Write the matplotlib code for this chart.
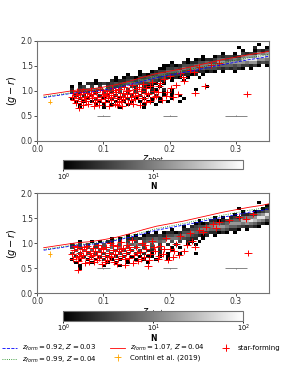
import matplotlib
matplotlib.use("Agg")
import matplotlib.pyplot as plt
import numpy as np
from matplotlib.colors import LogNorm

# ---- binning of the 2D histograms (z_phot vs g-r) ----
Z_START, Z_STEP, N_ZBIN = 0.05, 0.006, 50
GR_TOP, GR_STEP, N_GRBIN = 1.96, 0.06, 26

# count level encoded by each character of the grids below
LEVEL_COUNTS = {"1": 1, "2": 2, "3": 3, "4": 4, "5": 6, "6": 9, "7": 15, "8": 30, "9": 60}

# top panel: rows from g-r = 1.96 (top) downwards, columns from z = 0.05
top_grid = [
    ".......... .......... .......... .......... .......1..",
    ".......... .......... .......... .......... ..1...2..1",
    ".......... .......... .......... .......... ...1..1323",
    ".......... .......... .......... ........1. .1.3233767",
    ".......... .......... .......... ...1..1323 3236777998",
    ".......... .......... .........1 .121223554 5658999776",
    ".......... .......... .....1..21 2244544776 7777677343",
    ".......... .......... ...1121244 4566676555 54533231.1",
    ".......... .......... ..11334365 6645444323 2321.1....",
    ".......... .......1.. 1233555644 4322121.1. .1........",
    ".......... ....1..121 3455433322 12.1...... ..........",
    ".......... .1.1221334 55342121.1 ..1....... ..........",
    "......1... 2122343556 4322.1..1. .......... ..........",
    "..1.221232 3434565433 21.1...... .......... ..........",
    "1.23.3.3.3 4343.32.21 1.1....... ....1..... ..........",
    "2.345656.4 3.4.3.2.2. 21.2.1.... .1........ ..........",
    "3.2.3.2.3. 2.3.2.3.2. 2..1.1.... .......... ..........",
    ".2.2.2.2.2 .2.3.2.2.1 .2.1.1.1.. .......... ..........",
    "1.2.1.2.1. 2.1.2.1.1. 1.1..1..1. .......... ..........",
    ".1.1.1.1.1 .1.1.1.1.1 1.1.1..1.. .......... ..........",
    "..1...1.1. 1...1...1. .1........ .......... ..........",
    "..1.....1. ..1.....1. .......... .......... ..........",
    ".......... .......... .......... .......... ..........",
    ".......... .......... .......... .......... ..........",
    ".......... .......... .......... .......... ..........",
    ".......... .......... .......... .......... ..........",
]

bottom_grid = [
    ".......... .......... .......... .......... ..........",
    ".......... .......... .......... .......... ..........",
    ".......... .......... .......... .......... .......1..",
    ".......... .......... .......... .......... .........1",
    ".......... .......... .......... .......... ..1.....12",
    ".......... .......... .......... .......... ...1..1235",
    ".......... .......... .......... .......... .1.2233679",
    ".......... .......... .......... ......1.1. 2325667997",
    ".......... .......... .......... ..1..22123 4558898763",
    ".......... .......... .......... .121244545 7776765321",
    ".......... .......... ........1. 2344567776 55432321..",
    ".......... .......... .....1..22 4466655454 221.1.....",
    ".......... .........1 .1.1221244 6544322121 .1........",
    ".......... ....1.1.12 2232445465 43212.1... ..........",
    ".......... 1.1.223234 4544666543 22.1...... ..........",
    "..1..1.1.2 2.2.3.3.45 6656.4.3.2 1.1....... ..........",
    "2.3.3.3.4. 4.4.55654. 4.3.2.2..1 .1........ ..........",
    "3.3.4.3.4. 5.6.4.4.3. 3.3..1.1.. .......... ..........",
    ".4.5.5.4.5 .4.3.3.3.2 2.2..1.... .......... ..........",
    "3.3.3.3.3. 3.3.2.2.2. 1.2.1..1.. .1........ ..........",
    ".2.2.2.2.2 .2.2.1.1.1 1.1.1..... .......... ..........",
    "1.1.1.1.2. 1.1.1.1.1. .1..1..... .......... ..........",
    ".1...1...1 .1..1....1 .......... .......... ..........",
    "..1.....1. ..1....... .......... .......... ..........",
    "..1....... .......... .......... .......... ..........",
    ".......... .......... .......... .......... ..........",
]

# model colour tracks
model_z = [0.01, 0.02, 0.03, 0.04, 0.05, 0.06, 0.07, 0.08, 0.10, 0.12, 0.14,
           0.16, 0.18, 0.20, 0.22, 0.24, 0.26, 0.28, 0.30, 0.32, 0.34, 0.35]
blue_gr = [0.86, 0.88, 0.90, 0.92, 0.94, 0.96, 0.965, 0.975, 1.01, 1.06, 1.12,
           1.19, 1.26, 1.31, 1.36, 1.41, 1.47, 1.52, 1.57, 1.62, 1.66, 1.69]
green_gr = [0.875, 0.895, 0.915, 0.935, 0.955, 0.975, 0.98, 0.99, 1.03, 1.08, 1.15,
            1.22, 1.29, 1.34, 1.39, 1.45, 1.50, 1.56, 1.61, 1.66, 1.70, 1.73]
red_gr = [0.91, 0.93, 0.95, 0.97, 0.99, 1.01, 1.02, 1.03, 1.07, 1.12, 1.19,
          1.27, 1.34, 1.39, 1.44, 1.50, 1.56, 1.62, 1.67, 1.72, 1.76, 1.79]

# star-forming galaxies
top_sf_z = [0.052, 0.054, 0.056, 0.058, 0.060, 0.062, 0.063, 0.065, 0.067, 0.069,
            0.071, 0.073, 0.075, 0.077, 0.079, 0.081, 0.083, 0.085, 0.087, 0.089,
            0.091, 0.093, 0.095, 0.097, 0.099, 0.101, 0.103, 0.105, 0.107, 0.109,
            0.111, 0.113, 0.115, 0.117, 0.119, 0.121, 0.123, 0.125, 0.127, 0.129,
            0.131, 0.133, 0.135, 0.137, 0.139, 0.141, 0.143, 0.145, 0.147, 0.149,
            0.152, 0.155, 0.157, 0.160, 0.162, 0.165, 0.168, 0.171, 0.174, 0.177,
            0.180, 0.184, 0.188, 0.192, 0.196, 0.200, 0.205, 0.210, 0.216, 0.222,
            0.230, 0.238, 0.245, 0.253, 0.262, 0.275, 0.316, 0.108, 0.128, 0.145,
            0.058, 0.066, 0.074, 0.082, 0.090, 0.098, 0.104, 0.112, 0.118, 0.124,
            0.130, 0.136, 0.142, 0.148, 0.154, 0.158, 0.164, 0.170, 0.176, 0.182,
            0.186, 0.194, 0.202, 0.212, 0.220, 0.236, 0.070, 0.086, 0.120, 0.165]
top_sf_gr = [0.88, 0.95, 0.82, 0.91, 0.99, 0.86, 0.66, 0.93, 0.79, 1.00,
             0.88, 0.84, 0.96, 0.74, 0.90, 1.02, 0.85, 0.93, 0.78, 0.98,
             0.88, 0.72, 1.04, 0.83, 0.94, 0.89, 0.77, 1.00, 0.86, 0.95,
             0.81, 1.06, 0.91, 0.74, 0.97, 0.85, 1.03, 0.90, 0.79, 0.95,
             1.08, 0.87, 0.93, 0.76, 1.01, 0.88, 1.11, 0.96, 0.83, 1.04,
             0.92, 0.71, 0.99, 1.14, 0.86, 1.05, 0.94, 0.80, 1.18, 1.00,
             0.90, 1.09, 0.82, 1.23, 0.97, 1.29, 0.88, 1.12, 1.35, 1.20,
             1.42, 0.96, 1.47, 1.10, 1.52, 1.55, 0.94, 0.69, 0.70, 0.74,
             0.76, 0.97, 0.80, 0.94, 0.82, 1.01, 0.92, 0.87, 1.02, 0.78,
             0.84, 0.99, 0.81, 0.90, 1.08, 0.85, 0.96, 1.10, 0.87, 0.98,
             1.15, 0.90, 1.05, 0.94, 1.28, 1.38, 0.72, 0.70, 0.72, 0.77]

bottom_sf_z = [0.052, 0.054, 0.056, 0.058, 0.060, 0.062, 0.064, 0.066, 0.068, 0.070,
               0.072, 0.074, 0.076, 0.078, 0.080, 0.082, 0.084, 0.086, 0.088, 0.090,
               0.092, 0.094, 0.096, 0.098, 0.100, 0.102, 0.104, 0.106, 0.108, 0.110,
               0.112, 0.114, 0.116, 0.118, 0.120, 0.122, 0.124, 0.126, 0.128, 0.130,
               0.132, 0.134, 0.136, 0.138, 0.140, 0.143, 0.146, 0.149, 0.152, 0.155,
               0.158, 0.161, 0.164, 0.167, 0.170, 0.174, 0.178, 0.182, 0.186, 0.190,
               0.195, 0.200, 0.205, 0.210, 0.216, 0.222, 0.230, 0.238, 0.245, 0.255,
               0.265, 0.275, 0.290, 0.305, 0.318, 0.325, 0.061,
               0.056, 0.063, 0.071, 0.079, 0.085, 0.091, 0.097, 0.103, 0.109, 0.115,
               0.121, 0.127, 0.133, 0.139, 0.145, 0.151, 0.157, 0.163, 0.169, 0.176,
               0.184, 0.192, 0.198, 0.207, 0.214, 0.226, 0.234, 0.250, 0.270, 0.315]
bottom_sf_gr = [0.78, 0.68, 0.86, 0.73, 0.93, 0.64, 0.81, 0.71, 0.89, 0.76,
                0.60, 0.84, 0.95, 0.69, 0.80, 0.74, 0.91, 0.63, 0.85, 0.77,
                0.97, 0.70, 0.82, 0.58, 0.88, 0.75, 0.93, 0.66, 0.81, 1.00,
                0.72, 0.86, 0.62, 0.79, 0.95, 0.68, 0.84, 1.03, 0.74, 0.90,
                0.57, 0.80, 0.97, 0.70, 0.86, 1.06, 0.76, 0.92, 0.64, 0.83,
                1.00, 0.72, 0.89, 0.54, 0.79, 1.05, 0.85, 0.68, 0.95, 0.78,
                1.10, 0.88, 0.73, 0.99, 1.15, 0.84, 1.20, 0.92, 1.27, 1.33,
                1.38, 1.42, 1.47, 1.52, 0.80, 1.58, 0.47,
                0.95, 0.75, 0.92, 0.63, 0.77, 0.66, 0.90, 0.62, 0.74, 0.97,
                0.58, 0.88, 0.69, 0.93, 0.60, 0.81, 0.68, 0.97, 0.66, 0.92,
                0.75, 0.88, 0.66, 0.84, 0.76, 0.96, 1.05, 1.22, 1.30, 1.49]

# Contini et al. (2019)
contini_z, contini_gr, contini_zerr, contini_grerr = [0.019], [0.78], [0.002], [0.055]

# typical photometric errors
err_z = [0.1, 0.2, 0.3]
err_gr = [0.5, 0.5, 0.5]
err_zerr = [0.0095, 0.0105, 0.017]
err_grerr = [0.008, 0.008, 0.008]


def grid_cells(rows):
    z, gr, n = [], [], []
    for i, row in enumerate(rows):
        for c, ch in enumerate(row.replace(" ", "")):
            if ch != ".":
                z.append(Z_START + Z_STEP * (c + 0.5))
                gr.append(GR_TOP - GR_STEP * (i + 0.5))
                n.append(LEVEL_COUNTS[ch])
    return z, gr, n


z_edges = Z_START + Z_STEP * np.arange(N_ZBIN + 1)
gr_edges = GR_TOP - GR_STEP * np.arange(N_GRBIN, -1, -1)

plt.rcParams["font.family"] = "DejaVu Sans"
plt.rcParams["mathtext.fontset"] = "dejavusans"

fig = plt.figure(figsize=(2.99, 3.66), dpi=100)

panels = [
    (top_grid, top_sf_z, top_sf_gr, 0.616, 0.537, 98),
    (bottom_grid, bottom_sf_z, bottom_sf_gr, 0.199, 0.1235, 100),
]

handles = None
for grid, sf_z, sf_gr, ax_bottom, cb_bottom, vmax in panels:
    ax = fig.add_axes([0.124, ax_bottom, 0.776, 0.273])
    cz, cgr, cn = grid_cells(grid)
    _, _, _, im = ax.hist2d(cz, cgr, bins=[z_edges, gr_edges], weights=cn,
                            cmap="gray", norm=LogNorm(vmin=1, vmax=vmax), cmin=1, zorder=1)

    ax.errorbar(err_z, err_gr, xerr=err_zerr, yerr=err_grerr, fmt="none",
                ecolor="0.45", elinewidth=0.6, zorder=2)
    sf = ax.errorbar(sf_z, sf_gr, xerr=0.006, yerr=0.04, fmt="+", color="red",
                     ms=4, mew=0.7, elinewidth=0.6, zorder=3, label="star-forming")
    l_blue, = ax.plot(model_z, blue_gr, ls="--", color="blue", lw=0.6, zorder=4,
                      label=r"$z_{form}=0.92$, $Z=0.03$")
    l_green, = ax.plot(model_z, green_gr, ls=":", color="green", lw=0.6, zorder=4,
                       label=r"$z_{form}=0.99$, $Z=0.04$")
    l_red, = ax.plot(model_z, red_gr, ls="-", color="red", lw=0.6, zorder=4,
                     label=r"$z_{form}=1.07$, $Z=0.04$")
    ct = ax.errorbar(contini_z, contini_gr, xerr=contini_zerr, yerr=contini_grerr,
                     fmt="_", color="orange", ms=3, mew=0.6, elinewidth=0.6,
                     zorder=5, label="Contini et al. (2019)")

    ax.set_xlim(0, 0.35)
    ax.set_ylim(0, 2.0)
    ax.set_xticks([0.0, 0.1, 0.2, 0.3])
    ax.set_yticks([0.0, 0.5, 1.0, 1.5, 2.0])
    ax.tick_params(labelsize=5.5, length=2, width=0.6, pad=1, colors="0.2")
    for s in ax.spines.values():
        s.set_color("0.45")
        s.set_linewidth(0.8)
    ax.set_xlabel(r"$z_{phot}$", fontsize=7, labelpad=0)
    ax.set_ylabel(r"$(g-r)$", fontsize=7, labelpad=1)

    cax = fig.add_axes([0.211, cb_bottom, 0.602, 0.027])
    cb = fig.colorbar(im, cax=cax, orientation="horizontal")
    cb.ax.minorticks_off()
    cb.ax.tick_params(labelsize=4.8, length=1.5, width=0.6, pad=0)
    cb.outline.set_edgecolor("0.45")
    cb.outline.set_linewidth(0.8)
    cb.set_label("N", fontsize=5.5, fontweight="bold", labelpad=-0.3)

    handles = [l_blue, l_green, l_red, ct, sf]

fig.legend(handles, [h.get_label() for h in handles], ncol=3, loc="upper left",
           bbox_to_anchor=(0.005, 0.064), fontsize=5, frameon=False,
           handlelength=2.2, handletextpad=0.6, columnspacing=2.0,
           labelspacing=0.2, borderpad=0.1, borderaxespad=0)

fig.savefig("out.png", dpi=100)
